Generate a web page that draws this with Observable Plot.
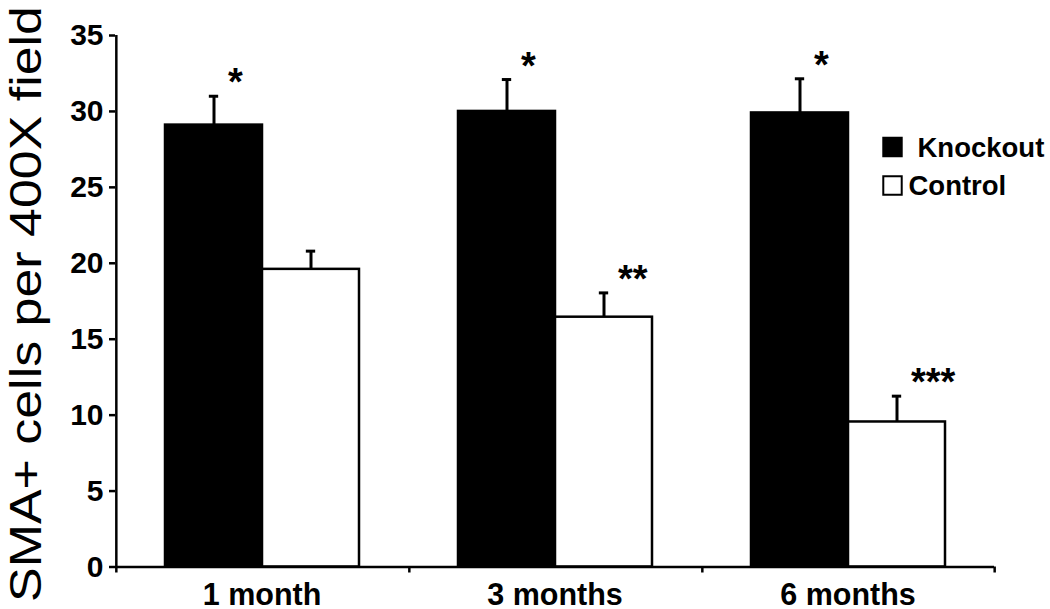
<!DOCTYPE html>
<html><head><meta charset="utf-8">
<script src="https://cdn.jsdelivr.net/npm/d3@7"></script>
<script src="https://cdn.jsdelivr.net/npm/@observablehq/plot@0.6"></script>
<style>body{margin:0;background:#fff}</style>
</head><body><div id="chart"></div>
<script>
const months = ["1 month", "3 months", "6 months"];
const seriesNames = ["Knockout", "Control"];
const knockoutMean = [29.1, 30.0, 29.9];
const knockoutErr = [1.9, 2.1, 2.25];
const controlMean = [19.6, 16.45, 9.55];
const controlErr = [1.2, 1.6, 1.7];
const knockoutSig = ["*", "*", "*"];
const controlSig = ["", "**", "***"];
const yTicks = [0, 5, 10, 15, 20, 25, 30, 35];
const yLabel = "SMA+ cells per 400X field";

const rows = [];
months.forEach((m, i) => {
  rows.push({month: m, series: seriesNames[0], value: knockoutMean[i], err: knockoutErr[i], sig: knockoutSig[i]});
  rows.push({month: m, series: seriesNames[1], value: controlMean[i], err: controlErr[i], sig: controlSig[i]});
});

const W = 1050, H = 609, mL = 115, mR = 56, mT = 35, mB = 42.5;
const facetW = (W - mL - mR) / months.length;
const step = facetW / (seriesNames.length + 1);
const capW = 10;
const font = "'Liberation Sans', Arial, Helvetica, sans-serif";
const first = months[0];
const last = months[months.length - 1];

const legendMarks = [];
const legendSq = [{dx: -102, dy: 111.5}, {dx: -102, dy: 150}];
const legendTx = [{dx: -77, dy: 121.5}, {dx: -86, dy: 159}];
seriesNames.forEach((s, i) => {
  legendMarks.push(Plot.dot([s], {fx: () => last, frameAnchor: "top-right", dx: legendSq[i].dx, dy: legendSq[i].dy,
    symbol: "square", r: 10.4, fill: d => d, stroke: "black", strokeWidth: 2}));
  legendMarks.push(Plot.text([s], {fx: () => last, frameAnchor: "top-right", dx: legendTx[i].dx, dy: legendTx[i].dy,
    text: d => d, textAnchor: "start", lineAnchor: "bottom", fontSize: 27.5, fontWeight: "bold", fill: "black"}));
});

const chart = Plot.plot({
  width: W, height: H,
  marginLeft: mL, marginRight: mR, marginTop: mT, marginBottom: mB,
  style: {fontFamily: font, color: "black", background: "white", overflow: "visible"},
  fx: {domain: months, padding: 0, label: null},
  x: {domain: seriesNames, paddingInner: 0, paddingOuter: 0.5, axis: null},
  y: {domain: [0, 35], label: yLabel},
  color: {domain: seriesNames, range: ["black", "white"]},
  marks: [
    Plot.barY(rows, {fx: "month", x: "series", y: "value", fill: "series", stroke: "black", strokeWidth: 2.5}),
    Plot.ruleX(rows, {fx: "month", x: "series", y1: "value", y2: d => d.value + d.err, stroke: "black", strokeWidth: 3}),
    Plot.tickY(rows, {fx: "month", x: "series", y: d => d.value + d.err, stroke: "black", strokeWidth: 3,
      insetLeft: (step - capW) / 2, insetRight: (step - capW) / 2}),
    Plot.ruleY([0], {stroke: "black", strokeWidth: 2.5}),
    Plot.ruleX([first], {fx: d => d, x: () => seriesNames[0], y1: 0, y2: 35, dx: -step, stroke: "black", strokeWidth: 2.5}),
    Plot.ruleX(months, {fx: d => d, x: () => seriesNames[0], y1: 0, y2: 0, dx: -step, insetBottom: -6, stroke: "black", strokeWidth: 2.5}),
    Plot.ruleX([last], {fx: d => d, x: () => seriesNames[1], y1: 0, y2: 0, dx: step, insetBottom: -6, stroke: "black", strokeWidth: 2.5}),
    Plot.text(rows, {fx: "month", x: "series", y: d => d.value + d.err, text: "sig", textAnchor: "start", dx: 14, dy: -1,
      lineAnchor: "bottom", fontSize: 38, fontWeight: "bold", fill: "black"}),
    Plot.axisY({ticks: yTicks, tickSize: 6, tickPadding: 6, fontSize: 30, fontWeight: "bold", stroke: "black", strokeWidth: 2.5,
      label: yLabel, labelAnchor: "center"}),
    Plot.axisFx({anchor: "bottom", tickSize: 0, tickPadding: 16, fontSize: 30.5, fontWeight: "bold", label: null}),
    ...legendMarks
  ]
});

document.getElementById("chart").appendChild(chart);

const svg = d3.select(chart.tagName.toLowerCase() === "svg" ? chart : chart.querySelector("svg"));
svg.selectAll('g[aria-label="y-axis tick"]').attr("stroke", "black").attr("stroke-width", 2.5).attr("stroke-opacity", 1);
svg.selectAll('g[aria-label="y-axis tick"] path').attr("stroke", "black").attr("stroke-width", 2.5);
const labG = svg.select('g[aria-label="y-axis label"]');
if (!labG.empty()) {
  labG.attr("transform", null).attr("font-weight", "normal").attr("font-size", 44);
  const t = labG.select("text");
  t.attr("transform", "translate(41,304) rotate(-90)")
   .attr("x", null).attr("y", null).attr("dy", null)
   .attr("text-anchor", "middle")
   .attr("font-size", 44).attr("font-weight", "normal")
   .attr("textLength", 596).attr("lengthAdjust", "spacingAndGlyphs")
   .text(yLabel);
}
</script>
</body></html>
